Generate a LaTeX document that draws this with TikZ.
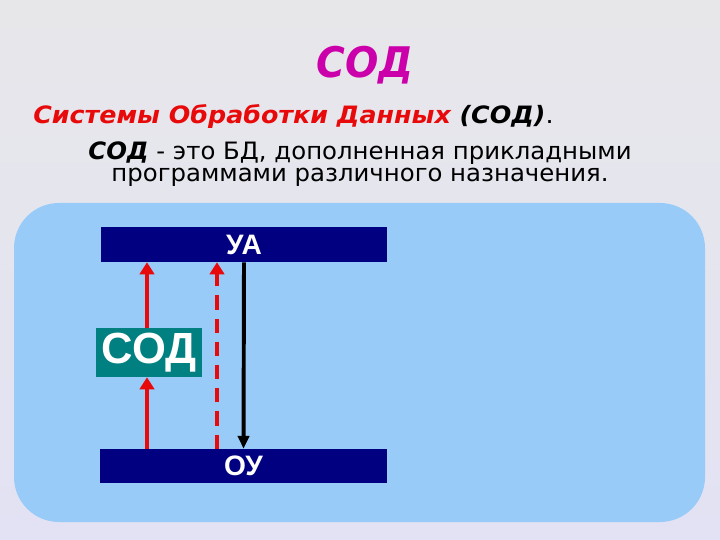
\documentclass[tikz,border=0pt]{standalone}
\usepackage{fontspec}
\setmainfont{Liberation Sans}
\newfontfamily\verd{DejaVu Sans}
\usepackage{xcolor}
\usepackage{tikz}
\usetikzlibrary{positioning}
\usetikzlibrary{arrows.meta}
\pgfdeclarelayer{backlayer}
\pgfdeclarelayer{nodelayer}
\pgfdeclarelayer{edgelayer}
\pgfsetlayers{backlayer,nodelayer,edgelayer,main}
\definecolor{slidegrey}{RGB}{231,231,234}
\definecolor{slidelav}{RGB}{226,226,244}
\definecolor{panelblue}{RGB}{153,203,249}
\definecolor{barnavy}{RGB}{0,0,128}
\definecolor{sodteal}{RGB}{0,128,128}
\definecolor{titlemag}{RGB}{204,0,170}
\definecolor{sodred}{RGB}{232,10,10}
\tikzset{
    none/.style = {inner sep=0pt},
    bar/.style = {fill=barnavy, text=white, inner sep=0pt,
                  font=\fontsize{20}{20}\selectfont\bfseries},
    sodbox/.style = {fill=sodteal, text=white, inner sep=0pt,
                     minimum width=2.65cm, minimum height=1.225cm,
                     font=\fontsize{31}{31}\selectfont\bfseries},
    redline/.style = {draw=sodred, line width=3.2pt},
    blackline/.style = {draw=black, line width=2.8pt}
}

\begin{document}
\begin{tikzpicture}[>={Triangle[length=0.3cm,width=0.36cm]}]
  \useasboundingbox (0,0) rectangle (18,13.5);
  \begin{pgfonlayer}{backlayer}
    \shade[top color=slidegrey, bottom color=slidelav] (0,0) rectangle (18,13.5);
    \fill[panelblue, rounded corners=1.125cm] (0.35,0.45) rectangle (17.625,8.425);
  \end{pgfonlayer}
  \begin{pgfonlayer}{nodelayer}
    \node [style=none, anchor=base, text=titlemag] (title) at (9.125, 11.55)
      {\scalebox{0.93}[1]{\verd\fontsize{30}{30}\selectfont\bfseries\itshape СОД}};
    \node [style=none, anchor=base west] (line1) at (0.825, 10.4)
      {\scalebox{1.06}[1]{\verd\fontsize{17}{17}\selectfont\bfseries\itshape
       \textcolor{sodred}{Системы Обработки Данных} (СОД)\normalfont\verd.}};
    \node [style=none, anchor=base] (line2) at (9, 9.5)
      {\scalebox{1.02}[1]{\verd\fontsize{17}{17}\selectfont{\bfseries\itshape СОД} - это БД, дополненная прикладными}};
    \node [style=none, anchor=base] (line3) at (9, 8.95)
      {\scalebox{1.02}[1]{\verd\fontsize{17}{17}\selectfont программами различного назначения.}};
    \node [style=bar, minimum width=7.15cm, minimum height=0.875cm] (ua) at (6.1, 7.3875) {УА};
    \node [style=bar, minimum width=7.175cm, minimum height=0.85cm] (ou) at (6.0875, 1.85) {ОУ};
    \node [style=sodbox] (sod) at (3.725, 4.6875) {СОД};
    \coordinate (redx) at (3.675, 0);
    \coordinate (dashx) at (5.425, 0);
  \end{pgfonlayer}
  \begin{pgfonlayer}{edgelayer}
    \draw [style=redline, ->] (sod.north -| redx) to (ua.south -| redx);
    \draw [style=redline, ->] (ou.north -| redx) to (sod.south -| redx);
    \draw [style=redline, dash pattern=on 10pt off 6.5pt, ->] (ou.north -| dashx) to (ua.south -| dashx);
    \draw [style=blackline, >={Triangle[length=0.32cm,width=0.28cm]}, ->] (ua.south) to (ou.north);
  \end{pgfonlayer}
\end{tikzpicture}
\end{document}
